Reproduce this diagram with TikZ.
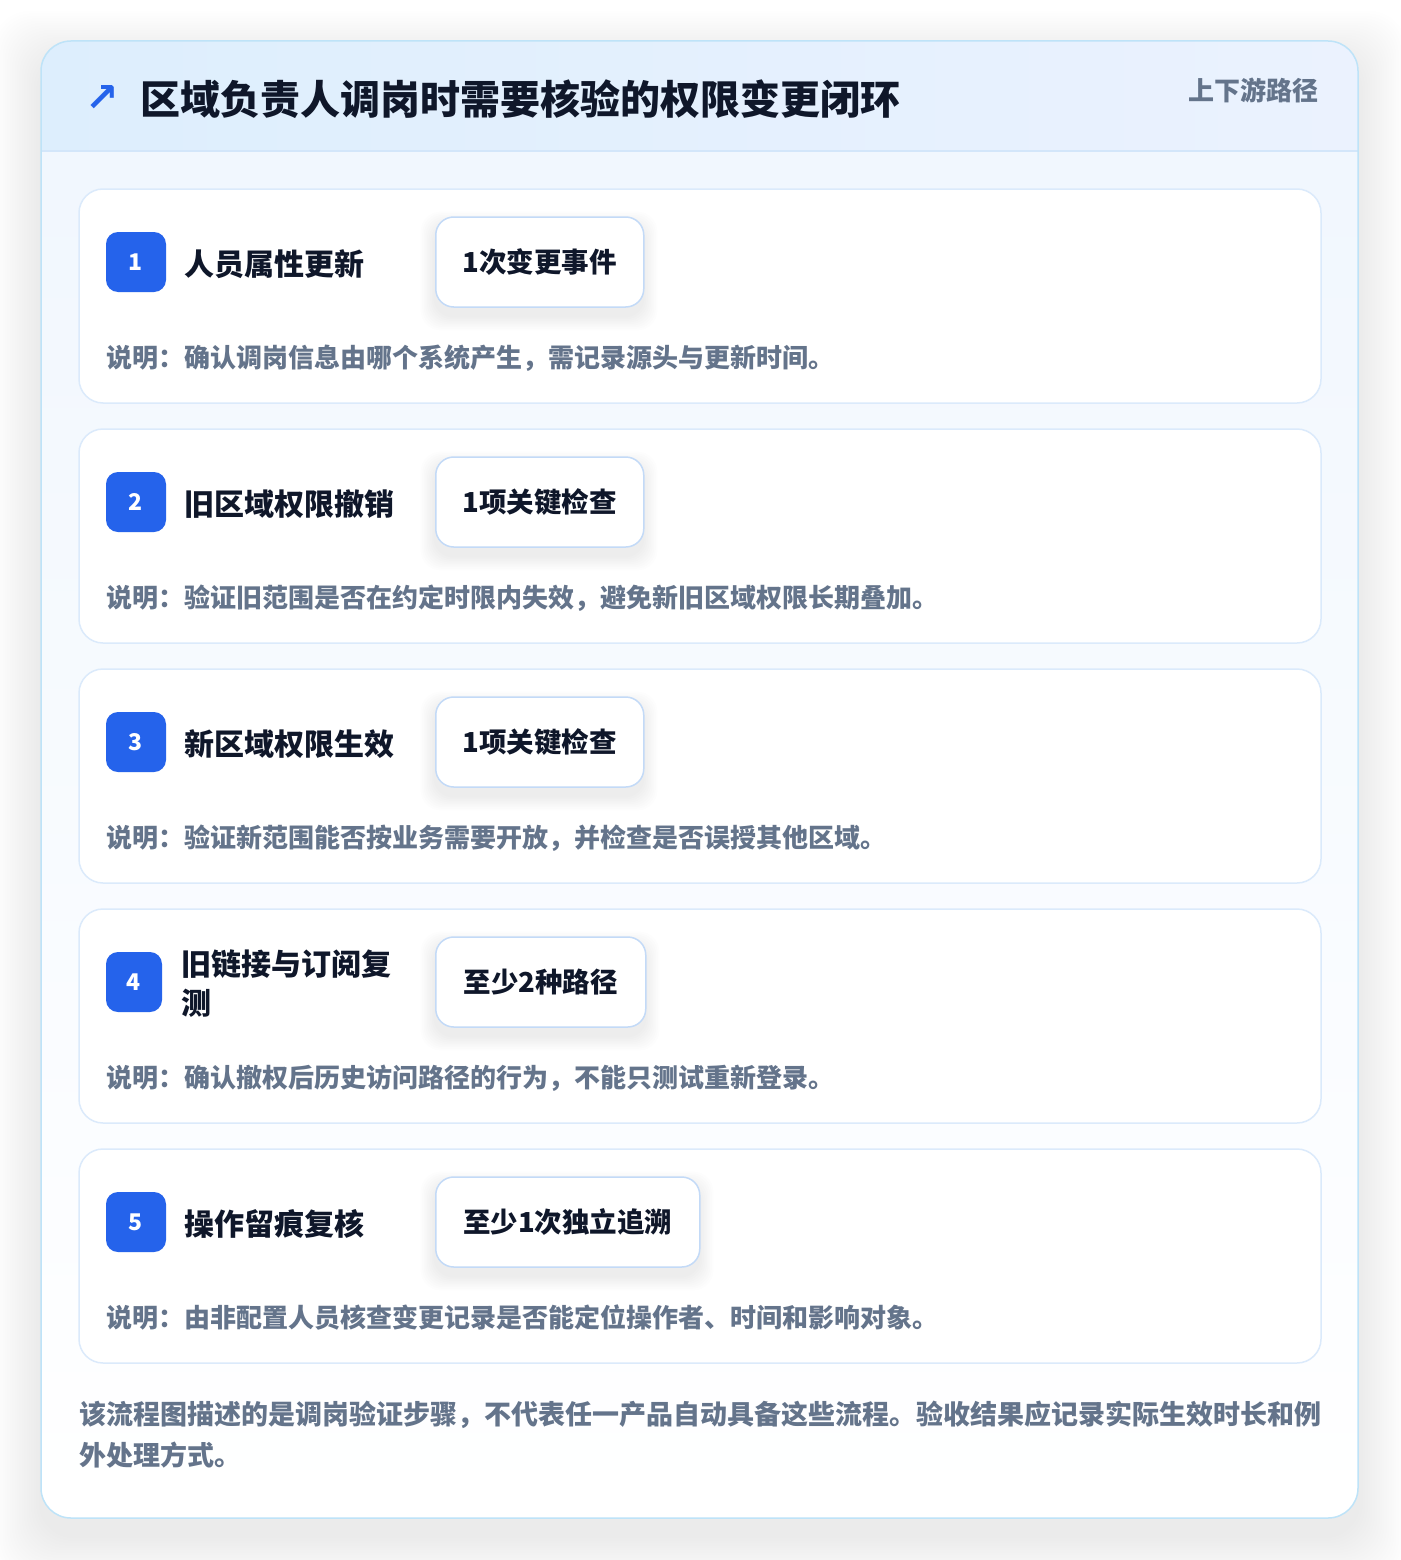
\documentclass[tikz,border=0pt]{standalone}
\usepackage{fontspec}
\setmainfont{Noto Sans CJK SC}
\newfontfamily\symfont{DejaVu Sans}
\definecolor{titlecol}{HTML}{0F172A}
\definecolor{graycol}{HTML}{64748B}
\definecolor{bluecol}{HTML}{2563EB}
\definecolor{outerline}{HTML}{BEE3F8}
\definecolor{cardline}{HTML}{DBEAFB}
\definecolor{pillline}{HTML}{C3DAF7}
\definecolor{headleft}{HTML}{DDEEFD}
\definecolor{headright}{HTML}{EBF2FE}
\definecolor{headline}{HTML}{D3E6FA}
\definecolor{bodytop}{HTML}{F1F7FE}
\tikzset{
  cardbox/.style={draw=cardline, line width=1.5pt, fill=white, rounded corners=24pt,
    minimum width=1242pt, minimum height=214pt, inner sep=0pt},
  badgebox/.style={fill=bluecol, rounded corners=12pt, minimum height=60pt,
    inner sep=0pt, text=white, font=\fontsize{23}{26}\selectfont\bfseries},
  pillbox/.style={draw=pillline, line width=1.5pt, fill=white, rounded corners=18pt,
    minimum height=90pt, inner sep=0pt, text=titlecol,
    font=\fontsize{27.5}{32}\selectfont\bfseries},
  steptitle/.style={anchor=west, inner sep=0pt, text=titlecol, align=left,
    font=\fontsize{30}{39}\selectfont\bfseries},
  desctext/.style={anchor=west, inner sep=0pt, text=graycol,
    font=\fontsize{26}{32}\selectfont\bfseries},
  softshade/.style={fill=black, opacity=#1},
}
% #1 index, #2 top, #3 title, #4 pill text, #5 pill width, #6 desc, #7 badge width, #8 title x
\newcommand{\mkcard}[8]{%
  \node[cardbox] (card#1) at (700,{#2+107}) {};
  \node[badgebox, minimum width=#7pt] (badge#1) at ({106+#7/2},{#2+73}) {#1};
  \node[steptitle] (title#1) at (#8,{#2+75}) {#3};
  \foreach \k in {1,...,9} {
    \fill[softshade=0.009, rounded corners=20pt]
      ({435-1.6*\k},{#2+28+9-1.6*\k}) rectangle ({435+#5+1.6*\k},{#2+118+9+1.6*\k});
  }
  \node[pillbox, anchor=west, minimum width=#5pt] (pill#1) at (435,{#2+73}) {#4};
  \node[desctext] (desc#1) at (106,{#2+169}) {#6};
}
\begin{document}
\begin{tikzpicture}[x=1pt,y=-1pt]
\useasboundingbox[fill=white] (0,0) rectangle (1400,1560);
% outer card soft shadow
\foreach \k in {1,...,20} {
  \fill[softshade=0.0042, rounded corners=36pt]
    ({41-2.4*\k},{41+18-2.4*\k}) rectangle ({1358+2.4*\k},{1518+18+2.4*\k});
}
\fill[white, rounded corners=30pt] (41,41) rectangle (1358,1518);
\begin{scope}
  \clip[rounded corners=30pt] (41,41) rectangle (1358,1518);
  \shade[left color=headleft, right color=headright] (41,41) rectangle (1358,151);
  \shade[top color=bodytop, bottom color=white] (41,151) rectangle (1358,1518);
  \draw[headline, line width=1.5pt] (41,151) -- (1358,151);
\end{scope}
\node[draw=outerline, line width=1.5pt, rounded corners=30pt, minimum width=1317pt,
  minimum height=1477pt, inner sep=0pt] (outer) at (699.5,779.5) {};
% header
\node[inner sep=0pt, text=bluecol, font=\symfont\bfseries\fontsize{40}{46}\selectfont] (arrow) at (102,99) {↗};
\node[anchor=west, inner sep=0pt, text=titlecol, font=\fontsize{40}{46}\selectfont\bfseries] (title) at (140,99) {区域负责人调岗时需要核验的权限变更闭环};
\node[anchor=east, inner sep=0pt, text=graycol, font=\fontsize{26}{30}\selectfont\bfseries] (tag) at (1319,90) {上下游路径};
% cards
\mkcard{1}{189}{人员属性更新}{1次变更事件}{208}{说明：确认调岗信息由哪个系统产生，需记录源头与更新时间。}{60}{184}
\mkcard{2}{429}{旧区域权限撤销}{1项关键检查}{208}{说明：验证旧范围是否在约定时限内失效，避免新旧区域权限长期叠加。}{60}{184}
\mkcard{3}{669}{新区域权限生效}{1项关键检查}{208}{说明：验证新范围能否按业务需要开放，并检查是否误授其他区域。}{60}{184}
\mkcard{4}{909}{旧链接与订阅复\\测}{至少2种路径}{210}{说明：确认撤权后历史访问路径的行为，不能只测试重新登录。}{56}{181}
\mkcard{5}{1149}{操作留痕复核}{至少1次独立追溯}{264}{说明：由非配置人员核查变更记录是否能定位操作者、时间和影响对象。}{60}{184}
% footer note
\node[anchor=north west, inner sep=0pt, text=graycol, align=left,
  font=\fontsize{27}{41}\selectfont\bfseries] (note) at (79,1401) {该流程图描述的是调岗验证步骤，不代表任一产品自动具备这些流程。验收结果应记录实际生效时长和例\\外处理方式。};
\end{tikzpicture}
\end{document}
